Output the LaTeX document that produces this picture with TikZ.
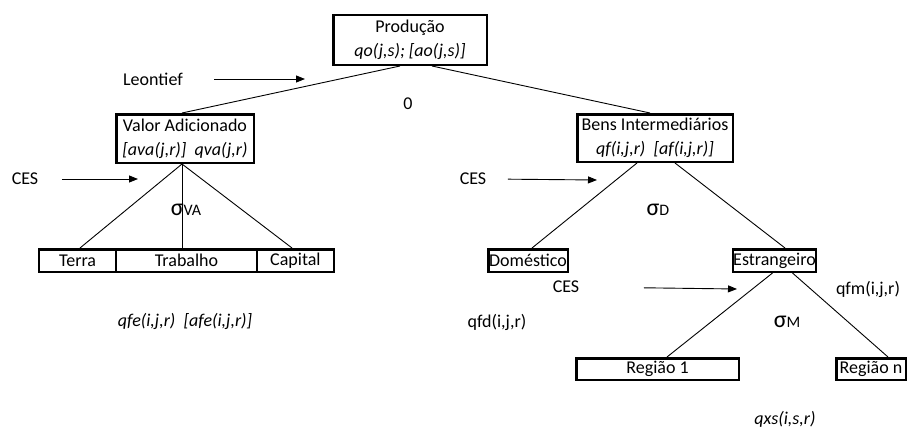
\documentclass[tikz,border=0pt]{standalone}
\usepackage{fontspec}
\setmainfont{Carlito}
\usepackage{tikz}
\usetikzlibrary{arrows.meta,positioning}

\tikzset{
  caixa/.style={draw, line width=2.5pt, inner sep=0pt, align=center},
  seta/.style={-{Triangle[length=9pt,width=7pt]}, line width=0.9pt},
  ramo/.style={draw=black, line width=0.9pt}
}
\newcommand{\sig}[1]{{\fontsize{24}{24}\selectfont σ}{\fontsize{16}{16}\selectfont #1}}

\begin{document}
\begin{tikzpicture}[x=1pt, y=-1pt, font=\fontsize{18}{24}\selectfont]
   \useasboundingbox (0,0) rectangle (909,428);
   \begin{scope}[every node/.style={caixa}]
    \node[minimum width=153.5, minimum height=49.5] (prod) at (410,40) {Produção\\\textit{qo(j,s); [ao(j,s)]}};
    \node[minimum width=137.5, minimum height=48.5] (va) at (185,138.5) {Valor Adicionado\\\textit{[ava(j,r)]\ \ qva(j,r)}};
    \node[minimum width=155.5, minimum height=47.5] (bens) at (655,138) {Bens Intermediários\\\textit{qf(i,j,r)\ \ [af(i,j,r)]}};
    \node[minimum width=76.75, minimum height=22.5] (terra) at (77.6,260.5) {Terra};
    \node[minimum width=141, minimum height=22.5] (trab) at (186.5,260.5) {Trabalho};
    \node[minimum width=76.75, minimum height=22.5] (cap) at (295.4,260.5) {Capital};
    \node[minimum width=79.5, minimum height=22.5] (dom) at (528,260.5) {Doméstico};
    \node[minimum width=72.5, minimum height=22.5] (estr) at (774.5,260.5) {Estrangeiro};
    \node[minimum width=162.5, minimum height=21.5] (reg1) at (657.5,369) {Região 1};
    \node[minimum width=69.5, minimum height=21.5] (regn) at (871,369) {Região n};
   \end{scope}
   \node (lt) at (153,79) {Leontief};
   \node (ces1) at (25,179) {CES};
   \node (ces2) at (473,179) {CES};
   \node (ces3) at (566,287) {CES};
   \node (zero) at (408,104) {0};
   \node (sva) at (186,210) {\sig{VA}};
   \node (sd) at (658,210) {\sig{D}};
   \node (sm) at (787,322) {\sig{M}};
   \node (qfe) at (185,321) {\textit{qfe(i,j,r)\ \ [afe(i,j,r)]}};
   \node (qfd) at (497,322) {qfd(i,j,r)};
   \node (qfm) at (868,289) {qfm(i,j,r)};
   \node (qxs) at (785,419) {\textit{qxs(i,s,r)}};
   \coordinate (lt-tip) at (305,79);
   \coordinate (ces1-tip) at (138,179);
   \coordinate (ces2-tip) at (597,180);
   \coordinate (ces3-tip) at (737,289);
   \begin{scope}[every edge/.style={ramo}]
    \draw ([xshift=-10pt]prod.south) edge ([xshift=-3pt]va.north);
    \draw ([xshift=22pt]prod.south) edge ([xshift=-5pt]bens.north);
    \draw ([xshift=-3pt]va.south) edge ([xshift=2.4pt]terra.north);
    \draw ([xshift=-3pt]va.south) edge ([xshift=-4.5pt]trab.north);
    \draw ([xshift=-3pt]va.south) edge ([xshift=-3.4pt]cap.north);
    \draw ([xshift=-18pt]bens.south) edge ([xshift=4pt]dom.north);
    \draw ([xshift=20pt]bens.south) edge ([xshift=10.5pt]estr.north);
    \draw ([xshift=-2pt]estr.south) edge ([xshift=9.5pt]reg1.north);
    \draw ([xshift=18pt]estr.south) edge ([xshift=17pt]regn.north);
   \end{scope}
   \draw[seta, shorten <=28pt] (lt.east) -- (lt-tip);
   \draw[seta, shorten <=20pt] (ces1.east) -- (ces1-tip);
   \draw[seta, shorten <=18pt] (ces2.east) -- (ces2-tip);
   \draw[seta, shorten <=61pt] (ces3.east) -- (ces3-tip);
\end{tikzpicture}
\end{document}
